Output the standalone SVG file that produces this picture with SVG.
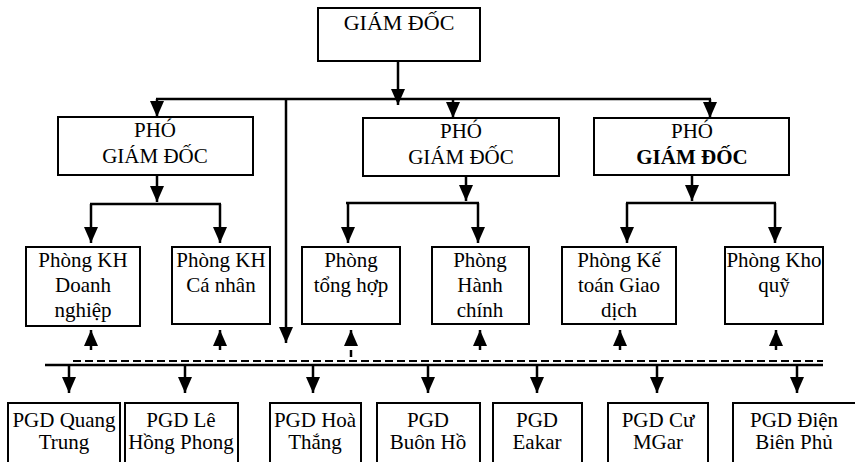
<svg xmlns="http://www.w3.org/2000/svg" width="855" height="462" viewBox="0 0 855 462">
<style>
.box{fill:#fff;stroke:#000;stroke-width:2}
.t{font-family:"Liberation Serif","Times New Roman",serif;font-size:21px;text-anchor:middle;fill:#000}
.b{font-weight:bold}
.c{stroke:#000;stroke-width:2.5;fill:none}
.a{marker-end:url(#ah)}
.d{stroke-dasharray:8,4}
</style>
<defs>
<marker id="ah" viewBox="0 0 16 14" refX="16" refY="7" markerWidth="16" markerHeight="14" markerUnits="userSpaceOnUse" orient="auto">
<path d="M0,0 L16,7 L0,14 z" fill="#000"/>
</marker>
</defs>
<rect width="855" height="462" fill="#fff"/>
<g id="connectors">
<line class="c a" x1="398" y1="61" x2="398" y2="105"/>
<line class="c" x1="156" y1="99" x2="711" y2="99"/>
<line class="c a" x1="157" y1="99" x2="157" y2="117"/>
<line class="c a" x1="453" y1="99" x2="453" y2="118"/>
<line class="c a" x1="710" y1="99" x2="710" y2="118"/>
<line class="c a" x1="286" y1="99" x2="286" y2="343"/>
<line class="c a" x1="157" y1="175" x2="157" y2="202"/>
<line class="c" x1="90" y1="204" x2="221" y2="204"/>
<line class="c a" x1="91" y1="204" x2="91" y2="243"/>
<line class="c a" x1="220" y1="204" x2="220" y2="243"/>
<line class="c a" x1="466" y1="176" x2="466" y2="201"/>
<line class="c" x1="346" y1="203" x2="479" y2="203"/>
<line class="c a" x1="348" y1="203" x2="348" y2="243"/>
<line class="c a" x1="478" y1="203" x2="478" y2="243"/>
<line class="c a" x1="692" y1="175" x2="692" y2="201"/>
<line class="c" x1="626" y1="203" x2="776" y2="203"/>
<line class="c a" x1="627" y1="203" x2="627" y2="243"/>
<line class="c a" x1="775" y1="203" x2="775" y2="243"/>
<line class="c a" x1="91" y1="350" x2="91" y2="330"/>
<line class="c a" x1="220" y1="350" x2="220" y2="330"/>
<line class="c" x1="351" y1="350" x2="351" y2="357"/>
<line class="c a" x1="351" y1="346" x2="351" y2="330"/>
<line class="c a" x1="480" y1="350" x2="480" y2="330"/>
<line class="c a" x1="620" y1="350" x2="620" y2="330"/>
<line class="c a" x1="776" y1="350" x2="776" y2="330"/>
<line class="c d" x1="73" y1="361" x2="823" y2="361" style="stroke-width:2"/>
<line class="c" x1="45" y1="365" x2="823" y2="365"/>
<line class="c a" x1="69" y1="365" x2="69" y2="393"/>
<line class="c a" x1="185" y1="365" x2="185" y2="393"/>
<line class="c a" x1="313" y1="365" x2="313" y2="393"/>
<line class="c a" x1="428" y1="365" x2="428" y2="393"/>
<line class="c a" x1="537" y1="365" x2="537" y2="393"/>
<line class="c a" x1="657" y1="365" x2="657" y2="393"/>
<line class="c a" x1="797" y1="365" x2="797" y2="393"/>
</g>
<g id="giamdoc"><rect class="box" x="318" y="8" width="162" height="53"/><text class="t" x="399" y="30" style="font-size:22px">GIÁM ĐỐC</text></g>
<g id="pgd1"><rect class="box" x="58" y="117" width="195" height="58"/><text class="t" x="155" y="137">PHÓ</text><text class="t" x="155" y="163">GIÁM ĐỐC</text></g>
<g id="pgd2"><rect class="box" x="363" y="118" width="196" height="58"/><text class="t" x="461" y="138">PHÓ</text><text class="t" x="461" y="164">GIÁM ĐỐC</text></g>
<g id="pgd3"><rect class="box" x="594" y="118" width="195" height="57"/><text class="t" x="692" y="138">PHÓ</text><text class="t b" x="692" y="164">GIÁM ĐỐC</text></g>
<g id="p1"><rect class="box" x="26" y="247" width="114" height="79"/><text class="t" x="83" y="267">Phòng KH</text><text class="t" x="83" y="292">Doanh</text><text class="t" x="83" y="317">nghiệp</text></g>
<g id="p2"><rect class="box" x="172" y="247" width="98" height="77"/><text class="t" x="221" y="267">Phòng KH</text><text class="t" x="221" y="292">Cá nhân</text></g>
<g id="p3"><rect class="box" x="302" y="247" width="98" height="77"/><text class="t" x="351" y="267">Phòng</text><text class="t" x="351" y="292">tổng hợp</text></g>
<g id="p4"><rect class="box" x="432" y="247" width="97" height="77"/><text class="t" x="480" y="267">Phòng</text><text class="t" x="480" y="292">Hành</text><text class="t" x="480" y="317">chính</text></g>
<g id="p5"><rect class="box" x="562" y="247" width="114" height="77"/><text class="t" x="619" y="267">Phòng Kế</text><text class="t" x="619" y="292">toán Giao</text><text class="t" x="619" y="317">dịch</text></g>
<g id="p6"><rect class="box" x="725" y="247" width="98" height="77"/><text class="t" x="774" y="267">Phòng Kho</text><text class="t" x="774" y="292">quỹ</text></g>
<g id="g1"><rect class="box" x="8" y="403" width="112" height="70"/><text class="t" x="64" y="427">PGD Quang</text><text class="t" x="64" y="449">Trung</text></g>
<g id="g2"><rect class="box" x="125" y="403" width="113" height="70"/><text class="t" x="181" y="427">PGD Lê</text><text class="t" x="181" y="449">Hồng Phong</text></g>
<g id="g3"><rect class="box" x="270" y="403" width="91" height="70"/><text class="t" x="315" y="427">PGD Hoà</text><text class="t" x="315" y="449">Thắng</text></g>
<g id="g4"><rect class="box" x="377" y="403" width="103" height="70"/><text class="t" x="428" y="427">PGD</text><text class="t" x="428" y="449">Buôn Hồ</text></g>
<g id="g5"><rect class="box" x="493" y="403" width="89" height="70"/><text class="t" x="537" y="427">PGD</text><text class="t" x="537" y="449">Eakar</text></g>
<g id="g6"><rect class="box" x="608" y="403" width="100" height="70"/><text class="t" x="658" y="427">PGD Cư</text><text class="t" x="658" y="449">MGar</text></g>
<g id="g7"><rect class="box" x="733" y="403" width="130" height="70"/><text class="t" x="794" y="427">PGD Điện</text><text class="t" x="794" y="449">Biên Phủ</text></g>
</svg>
